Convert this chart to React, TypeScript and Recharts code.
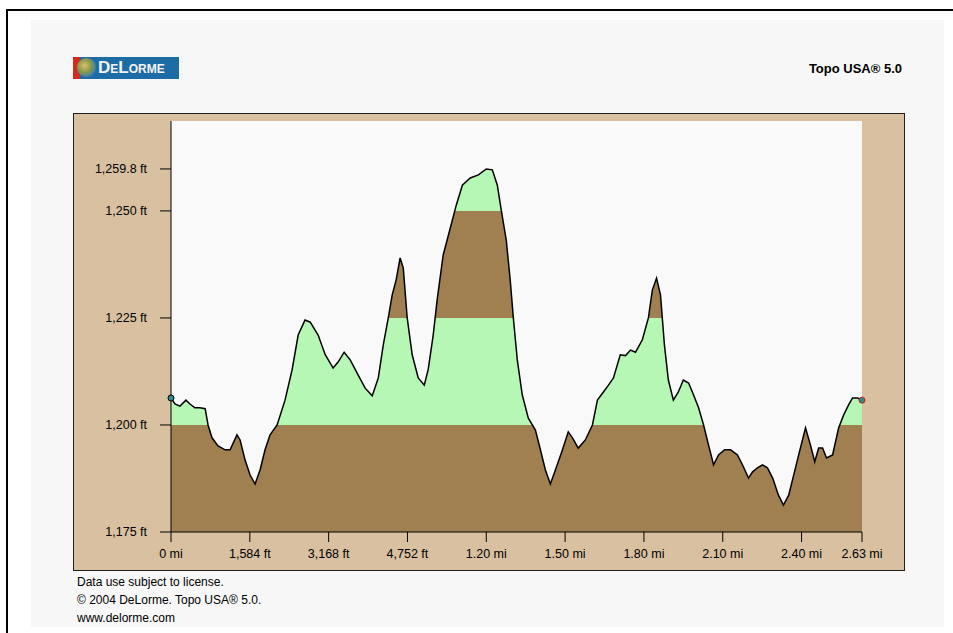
import { ComposedChart, Area, XAxis, YAxis, CartesianGrid, ReferenceDot } from 'recharts';

// distance along the route, miles
const distance = [
  0, 0.015, 0.034, 0.057, 0.072, 0.091, 0.11, 0.13, 0.141, 0.156, 0.179, 0.206, 0.225, 0.251, 0.263,
  0.282, 0.301, 0.32, 0.339, 0.358, 0.377, 0.404, 0.434, 0.461, 0.484, 0.51, 0.53, 0.56, 0.587, 0.617,
  0.636, 0.659, 0.682, 0.712, 0.739, 0.766, 0.789, 0.808, 0.827, 0.842, 0.857, 0.872, 0.884, 0.899,
  0.918, 0.941, 0.964, 0.979, 0.998, 1.013, 1.036, 1.063, 1.086, 1.109, 1.139, 1.17, 1.2, 1.223, 1.242,
  1.257, 1.276, 1.291, 1.303, 1.318, 1.337, 1.36, 1.387, 1.406, 1.425, 1.444, 1.463, 1.49, 1.512, 1.528,
  1.55, 1.577, 1.604, 1.623, 1.646, 1.665, 1.684, 1.71, 1.73, 1.749, 1.768, 1.794, 1.817, 1.832, 1.848,
  1.863, 1.878, 1.893, 1.912, 1.931, 1.95, 1.97, 1.989, 2.008, 2.027, 2.046, 2.065, 2.084, 2.107, 2.13,
  2.156, 2.175, 2.198, 2.213, 2.232, 2.251, 2.27, 2.29, 2.312, 2.331, 2.351, 2.37, 2.389, 2.415, 2.434,
  2.45, 2.465, 2.48, 2.495, 2.518, 2.541, 2.56, 2.579, 2.594, 2.613, 2.63,
];

// elevation, feet
const elevation = [
  1206.3, 1204.9, 1204.4, 1205.8, 1204.9, 1204.0, 1204.0, 1203.8, 1200.0, 1197.0, 1195.1, 1194.2, 1194.2,
  1197.7, 1196.5, 1191.8, 1188.3, 1186.2, 1189.5, 1194.2, 1197.7, 1200.0, 1205.8, 1212.9, 1221.0, 1224.5,
  1224.0, 1221.0, 1216.4, 1213.3, 1214.7, 1217.0, 1215.2, 1211.7, 1208.6, 1206.8, 1211.0, 1218.7, 1225.0,
  1230.4, 1233.9, 1239.0, 1236.7, 1225.0, 1216.4, 1211.0, 1209.3, 1213.0, 1221.0, 1229.2, 1239.7, 1246.0,
  1251.4, 1256.0, 1257.7, 1258.4, 1259.8, 1259.6, 1256.0, 1250.2, 1243.2, 1233.9, 1225.0, 1215.2, 1207.0,
  1201.6, 1198.8, 1194.2, 1189.5, 1186.2, 1189.5, 1194.2, 1198.4, 1197.0, 1194.6, 1196.5, 1200.0, 1205.8,
  1207.7, 1209.3, 1211.0, 1216.4, 1216.2, 1217.5, 1217.0, 1219.9, 1225.0, 1231.5, 1234.3, 1230.4, 1218.7,
  1210.5, 1205.8, 1207.7, 1210.5, 1209.8, 1207.0, 1204.0, 1200.0, 1195.3, 1190.7, 1193.0, 1194.2, 1194.2,
  1193.0, 1190.7, 1187.6, 1189.0, 1190.0, 1190.7, 1190.0, 1187.6, 1183.6, 1181.3, 1183.6, 1188.3, 1193.0,
  1199.3, 1195.3, 1191.4, 1194.6, 1194.6, 1192.3, 1193.0, 1199.3, 1202.3, 1204.7, 1206.3, 1206.3, 1205.8,
];

const yTicks = [1175, 1200, 1225, 1250, 1259.8];
const yTickLabels = ['1,175 ft', '1,200 ft', '1,225 ft', '1,250 ft', '1,259.8 ft'];
const xTicks = [0, 0.3, 0.6, 0.9, 1.2, 1.5, 1.8, 2.1, 2.4, 2.63];
const xTickLabels = ['0 mi', '1,584 ft', '3,168 ft', '4,752 ft', '1.20 mi', '1.50 mi', '1.80 mi', '2.10 mi', '2.40 mi', '2.63 mi'];
// colour bands every 25 ft
const bandEdges = [1250, 1225, 1200];

const BASE = 1175;
const TOP = 1271;
const GREEN = '#b6f7b6';
const BROWN = '#a08050';
const TAN = '#d8c0a0';

const data = distance.map((d, i) => ({ d, e: elevation[i] }));

const font = '"Liberation Sans", Arial, sans-serif';

function Logo() {
  return (
    <div
      style={{
        position: 'absolute',
        left: 73,
        top: 57,
        width: 106,
        height: 22,
        background: '#1e6ca6',
        overflow: 'hidden',
      }}
    >
      <div style={{ position: 'absolute', left: 0, top: 0, width: 7, height: 22, background: '#d42a1c' }} />
      <div
        style={{
          position: 'absolute',
          left: 4,
          top: 1,
          width: 19,
          height: 19,
          borderRadius: '50%',
          background: 'radial-gradient(circle at 40% 40%, #e0c070 0%, #8a9a4a 40%, #3b7bb8 75%, #245c90 100%)',
        }}
      />
      <div
        style={{
          position: 'absolute',
          left: 25,
          top: 2,
          color: '#f4f4f4',
          fontFamily: font,
          fontSize: 17,
          fontWeight: 'bold',
          fontVariant: 'small-caps',
          lineHeight: '18px',
        }}
      >
        DeLorme
      </div>
    </div>
  );
}

export default function App() {
  const maxE = Math.max(...elevation);
  const off = (v: number) => (maxE - v) / (maxE - BASE);
  const first = data[0];
  const last = data[data.length - 1];

  return (
    <div style={{ position: 'absolute', left: 0, top: 0, width: 953, height: 633, overflow: 'hidden', background: '#fff' }}>
      <div style={{ position: 'absolute', left: 6, top: 9, width: 947, height: 2, background: '#000' }} />
      <div style={{ position: 'absolute', left: 6, top: 9, width: 2, height: 624, background: '#000' }} />
      <div style={{ position: 'absolute', left: 31, top: 20, width: 913, height: 607, background: '#f7f7f7' }} />
      <Logo />
      <div
        style={{
          position: 'absolute',
          right: 953 - 902,
          top: 61,
          fontFamily: font,
          fontSize: 13,
          fontWeight: 'bold',
          color: '#000',
        }}
      >
        Topo USA® 5.0
      </div>

      <div
        style={{
          position: 'absolute',
          left: 73,
          top: 113,
          width: 832,
          height: 458,
          boxSizing: 'border-box',
          background: TAN,
          border: '1px solid #202020',
        }}
      />
      <div style={{ position: 'absolute', left: 73, top: 113 }}>
        <ComposedChart
          width={832}
          height={458}
          data={data}
          margin={{ top: 8, right: 43, bottom: 9, left: 10 }}
        >
          <defs>
            <linearGradient id="elevBands" x1="0" y1="0" x2="0" y2="1">
              <stop offset={0} stopColor={GREEN} />
              <stop offset={off(bandEdges[0])} stopColor={GREEN} />
              <stop offset={off(bandEdges[0])} stopColor={BROWN} />
              <stop offset={off(bandEdges[1])} stopColor={BROWN} />
              <stop offset={off(bandEdges[1])} stopColor={GREEN} />
              <stop offset={off(bandEdges[2])} stopColor={GREEN} />
              <stop offset={off(bandEdges[2])} stopColor={BROWN} />
              <stop offset={1} stopColor={BROWN} />
            </linearGradient>
          </defs>
          <CartesianGrid fill="#f9f9f9" horizontal={false} vertical={false} />
          <XAxis
            dataKey="d"
            type="number"
            domain={[0, 2.63]}
            ticks={xTicks}
            tickFormatter={(v: number) => xTickLabels[xTicks.indexOf(v)] ?? ''}
            interval={0}
            height={30}
            tickSize={10}
            tickMargin={7}
            axisLine={{ stroke: '#000' }}
            tickLine={{ stroke: '#000' }}
            tick={{ fill: '#000', fontSize: 12.5, fontFamily: font }}
            allowDataOverflow
          />
          <YAxis
            type="number"
            domain={[BASE, TOP]}
            ticks={yTicks}
            tickFormatter={(v: number) => yTickLabels[yTicks.indexOf(v)] ?? ''}
            interval={0}
            width={88}
            tickSize={11}
            tickMargin={13}
            axisLine={{ stroke: '#000' }}
            tickLine={{ stroke: '#000' }}
            tick={{ fill: '#000', fontSize: 12.5, fontFamily: font }}
            allowDataOverflow
          />
          <Area
            dataKey="e"
            type="linear"
            baseValue="dataMin"
            fill="url(#elevBands)"
            fillOpacity={1}
            stroke="#000"
            strokeWidth={1.5}
            dot={false}
            activeDot={false}
            isAnimationActive={false}
          />
          <ReferenceDot x={first.d} y={first.e} r={3} fill="#2c8c8c" stroke="#000" strokeWidth={1} />
          <ReferenceDot x={last.d} y={last.e} r={3} fill="#2c8c8c" stroke="#c02020" strokeWidth={1} />
        </ComposedChart>
      </div>

      <div
        style={{
          position: 'absolute',
          left: 77,
          top: 573,
          fontFamily: font,
          fontSize: 12,
          lineHeight: '18px',
          color: '#000',
        }}
      >
        <div>Data use subject to license.</div>
        <div>© 2004 DeLorme. Topo USA® 5.0.</div>
        <div>www.delorme.com</div>
      </div>
    </div>
  );
}
